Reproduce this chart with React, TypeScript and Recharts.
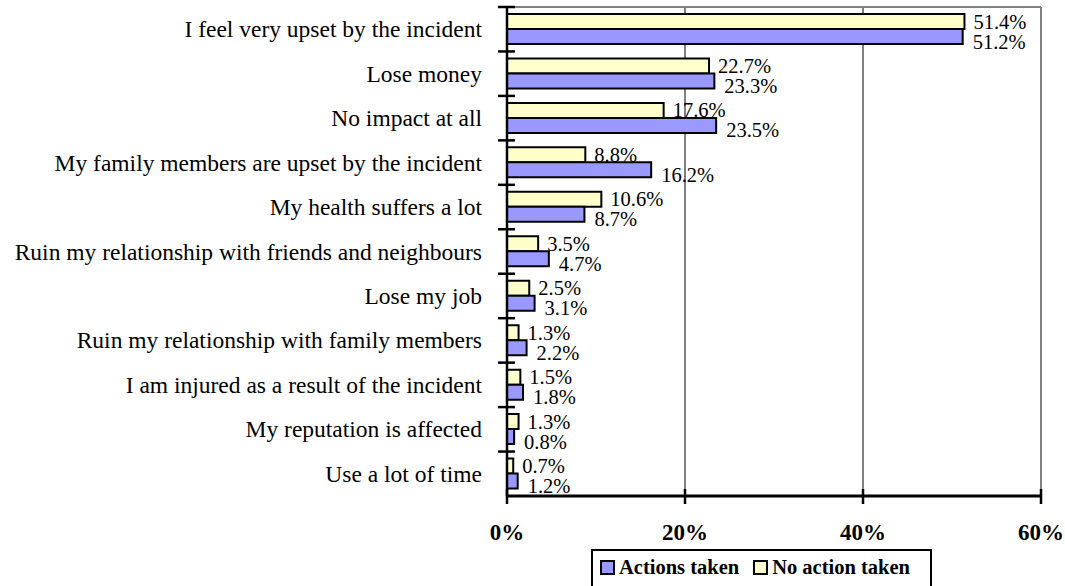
import React from "react";
import {
  BarChart,
  Bar,
  XAxis,
  YAxis,
  CartesianGrid,
  LabelList,
} from "recharts";

const categories = [
  "I feel very upset by the incident",
  "Lose money",
  "No impact at all",
  "My family members are upset by the incident",
  "My health suffers a lot",
  "Ruin my relationship with friends and neighbours",
  "Lose my job",
  "Ruin my relationship with family members",
  "I am injured as a result of the incident",
  "My reputation is affected",
  "Use a lot of time",
];

const actionsTaken = [51.2, 23.3, 23.5, 16.2, 8.7, 4.7, 3.1, 2.2, 1.8, 0.8, 1.2];
const noActionTaken = [51.4, 22.7, 17.6, 8.8, 10.6, 3.5, 2.5, 1.3, 1.5, 1.3, 0.7];

const xTicks = [0, 20, 40, 60];

const data = categories.map((name, i) => ({
  name,
  actions: actionsTaken[i],
  noAction: noActionTaken[i],
}));

const W = 1065;
const H = 586;
const TOP = 7;
const RIGHT = 24;
const BOTTOM = 60;
const X_AXIS_H = 30;
const Y_AXIS_W = 507;
const BAND = (H - TOP - BOTTOM - X_AXIS_H) / categories.length;

const FONT = "Liberation Serif, Times New Roman, DejaVu Serif, serif";
const BLUE = "#9999FF";
const YELLOW = "#FFFFCC";
const GRID = "#808080";

function CategoryTick(props: any) {
  const { x, y, payload } = props;
  return (
    <g>
      <line x1={x - 9} x2={x + 8} y1={y - BAND / 2} y2={y - BAND / 2} stroke="#000" strokeWidth={2.5} />
      <text
        x={x - 25}
        y={y}
        textAnchor="end"
        dominantBaseline="central"
        style={{ fontFamily: FONT, fontSize: 23.5 }}
        fill="#000"
      >
        {payload.value}
      </text>
    </g>
  );
}

function PercentTick(props: any) {
  const { x, y, payload } = props;
  return (
    <g>
      <line x1={x} x2={x} y1={y - 7} y2={y + 8} stroke="#000" strokeWidth={2.5} />
      <text
        x={x}
        y={y + 36}
        textAnchor="middle"
        dominantBaseline="central"
        style={{ fontFamily: FONT, fontSize: 23, fontWeight: "bold" }}
        fill="#000"
      >
        {payload.value}%
      </text>
    </g>
  );
}

const valueLabel = (dx: number, dy: number) => (props: any) => {
  const x = Number(props.x);
  const y = Number(props.y);
  const w = Number(props.width);
  const h = Number(props.height);
  return (
    <text
      x={x + w + dx}
      y={y + h / 2 + dy}
      dominantBaseline="central"
      style={{ fontFamily: FONT, fontSize: 20.5 }}
      fill="#000"
    >
      {Number(props.value).toFixed(1)}%
    </text>
  );
};

function LegendBox() {
  const item = (color: string, text: string, ml: number) => (
    <div style={{ display: "flex", alignItems: "center", marginLeft: ml }}>
      <div
        style={{
          width: 11,
          height: 11,
          background: color,
          border: "2px solid #000",
          marginRight: 4,
        }}
      />
      <span style={{ fontFamily: FONT, fontWeight: "bold", fontSize: 20.5, lineHeight: "22px" }}>{text}</span>
    </div>
  );
  return (
    <div
      style={{
        position: "absolute",
        left: 591,
        top: 549,
        width: 337,
        height: 50,
        border: "2px solid #000",
        boxSizing: "content-box",
        background: "#fff",
      }}
    >
      <div style={{ display: "flex", alignItems: "center", marginTop: 5 }}>
        {item(BLUE, "Actions taken", 7)}
        {item(YELLOW, "No action taken", 14)}
      </div>
    </div>
  );
}

export default function App() {
  return (
    <div
      style={{
        position: "absolute",
        left: 0,
        top: 0,
        width: W,
        height: H,
        overflow: "hidden",
        background: "#fff",
        fontFamily: FONT,
      }}
    >
      <BarChart
        width={W}
        height={H}
        data={data}
        layout="vertical"
        margin={{ top: TOP, right: RIGHT, bottom: BOTTOM, left: 0 }}
        barSize={15}
        barGap={0}
      >
        <CartesianGrid
          horizontal={true}
          vertical={true}
          horizontalPoints={[TOP]}
          stroke={GRID}
          strokeWidth={2}
        />
        <XAxis
          type="number"
          domain={[0, 60]}
          ticks={xTicks}
          interval={0}
          height={X_AXIS_H}
          tickSize={0}
          tickMargin={0}
          tickLine={false}
          axisLine={{ stroke: "#000", strokeWidth: 3 }}
          tick={<PercentTick />}
        />
        <YAxis
          type="category"
          dataKey="name"
          width={Y_AXIS_W}
          interval={0}
          tickSize={0}
          tickMargin={0}
          tickLine={false}
          axisLine={{ stroke: "#000", strokeWidth: 2.5 }}
          tick={<CategoryTick />}
        />
        <Bar dataKey="noAction" name="No action taken" fill={YELLOW} stroke="#000" strokeWidth={2} isAnimationActive={false}>
          <LabelList dataKey="noAction" content={valueLabel(9, 0)} />
        </Bar>
        <Bar dataKey="actions" name="Actions taken" fill={BLUE} stroke="#000" strokeWidth={2} isAnimationActive={false}>
          <LabelList dataKey="actions" content={valueLabel(10, 5)} />
        </Bar>
      </BarChart>
      <LegendBox />
    </div>
  );
}
